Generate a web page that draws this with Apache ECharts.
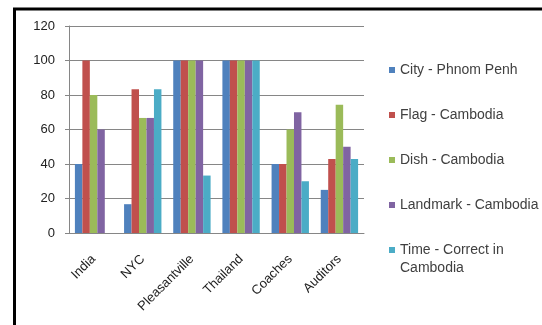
<!DOCTYPE html>
<html>
<head>
<meta charset="utf-8">
<script src="https://cdn.jsdelivr.net/npm/echarts@6/dist/echarts.min.js"></script>
<style>
  html, body { margin: 0; padding: 0; background: #fff; }
  #chart { width: 542px; height: 325px; }
</style>
</head>
<body>
<div id="chart"></div>
<script>
// survey results, percent correct per group
const categories = ['India', 'NYC', 'Pleasantville', 'Thailand', 'Coaches', 'Auditors'];
const seriesNames = ['City - Phnom Penh', 'Flag - Cambodia', 'Dish - Cambodia', 'Landmark - Cambodia', 'Time - Correct in Cambodia'];
const cityData = [40, 16.7, 100, 100, 40, 25];
const flagData = [100, 83.3, 100, 100, 40, 42.9];
const dishData = [80, 66.7, 100, 100, 60, 74.3];
const landmarkData = [60, 66.7, 100, 100, 70, 50];
const timeData = [0, 83.3, 33.3, 100, 30, 42.9];
const yTicks = [0, 20, 40, 60, 80, 100, 120];

const colors = ['#4F81BD', '#C0504D', '#9BBB59', '#8064A2', '#4BACC6'];
const allData = [cityData, flagData, dishData, landmarkData, timeData];

const legendText = {
  fontSize: 14,
  color: '#404040',
  lineHeight: 18,
};

function renderChart() {
  const dom = document.getElementById('chart');
  const chart = echarts.init(dom);
  const option = {
    animation: false,
    color: colors,
    textStyle: {fontFamily: 'Liberation Sans'},
    graphic: [{
      type: 'rect',
      shape: {x: 14.5, y: 9, width: 600, height: 400},
      style: {fill: null, stroke: '#000', lineWidth: 3},
      silent: true,
    }],
    grid: {
      left: 69,
      right: 178,
      top: 26,
      bottom: 92,
    },
    // the wrapped last entry sits in its own legend so its box lines up with the first line
    legend: [{
      orient: 'vertical',
      left: 389,
      top: 61,
      padding: 0,
      itemGap: 27,
      itemWidth: 6,
      itemHeight: 6,
      icon: 'rect',
      data: seriesNames.slice(0, 4),
      textStyle: legendText,
    }, {
      orient: 'vertical',
      left: 389,
      top: 223,
      padding: 0,
      itemWidth: 6,
      itemHeight: 6,
      icon: 'rect',
      data: seriesNames.slice(4),
      formatter: function() { return ' \nTime - Correct in\nCambodia'; },
      textStyle: legendText,
    }],
    xAxis: {
      type: 'category',
      data: categories,
      axisLine: {lineStyle: {color: '#868686', width: 1}},
      axisTick: {length: 5, lineStyle: {color: '#868686'}},
      axisLabel: {
        rotate: 45,
        fontSize: 13,
        color: '#222',
        margin: 24,
        interval: 0,
      },
    },
    yAxis: {
      type: 'value',
      min: 0,
      max: 120,
      interval: 20,
      axisLine: {show: true, lineStyle: {color: '#868686'}},
      axisTick: {show: true, length: 4, lineStyle: {color: '#868686'}},
      axisLabel: {
        fontSize: 13,
        color: '#222',
        margin: 14,
        formatter: function(v) { return yTicks.indexOf(v) >= 0 ? String(v) : ''; },
      },
      splitLine: {lineStyle: {color: '#868686', width: 1}},
    },
    series: seriesNames.map(function(name, i) {
      return {
        name: name,
        type: 'bar',
        data: allData[i],
        barGap: '0%',
        barCategoryGap: '24%',
        itemStyle: {color: colors[i]},
      };
    }),
  };
  chart.setOption(option, true);
}

renderChart();
</script>
</body>
</html>
